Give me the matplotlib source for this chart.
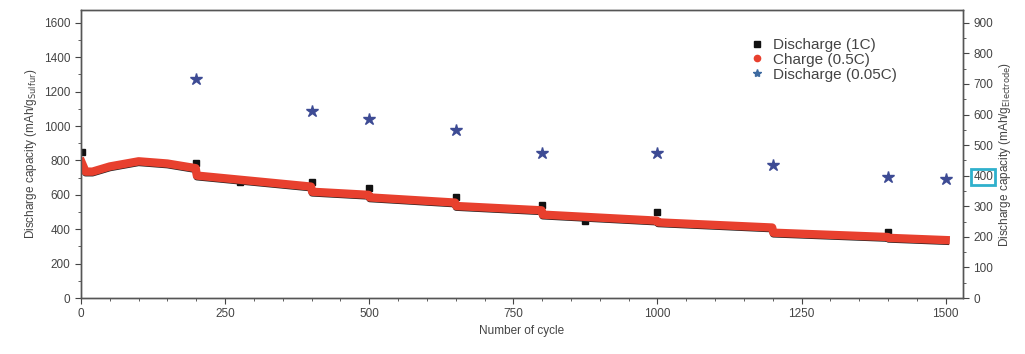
import matplotlib
matplotlib.use('Agg')
import matplotlib.pyplot as plt
from matplotlib.ticker import MultipleLocator

plt.rcParams['font.family'] = ['Liberation Sans', 'DejaVu Sans']
plt.rcParams['font.size'] = 8.5
plt.rcParams['text.color'] = '#444444'
plt.rcParams['axes.labelcolor'] = '#444444'
plt.rcParams['xtick.color'] = '#444444'
plt.rcParams['ytick.color'] = '#444444'

# ==================== data ====================
# charge (0.5C) curve, key points (step drops at 0.05C test cycles)
charge_cycle = [1, 8, 20, 50, 100, 150, 199, 201, 300, 399, 401, 499, 501,
                649, 651, 799, 801, 999, 1001, 1199, 1201, 1399, 1401, 1500]
charge_cap = [790, 735, 735, 765, 795, 782, 755, 712, 680, 648, 618, 600, 585,
              555, 535, 510, 485, 450, 440, 410, 380, 355, 350, 337]

# discharge (1C) curve, just under the charge curve
dis_cycle = [1, 8, 20, 50, 100, 150, 199, 201, 300, 399, 401, 499, 501,
             649, 651, 799, 801, 999, 1001, 1199, 1201, 1399, 1401, 1500]
dis_cap = [780, 727, 727, 757, 787, 774, 747, 704, 672, 640, 610, 592, 577,
           547, 527, 502, 477, 442, 432, 402, 372, 347, 342, 329]

# discharge (1C) points sticking out of the curve
dis_pt_cycle = [1, 200, 275, 400, 500, 650, 800, 875, 1000, 1400]
dis_pt_cap = [850, 785, 674, 674, 640, 585, 540, 450, 500, 386]

# discharge (0.05C), right axis
slow_cycle = [200, 400, 500, 650, 800, 1000, 1200, 1400, 1500]
slow_cap = [717, 613, 587, 548, 473, 473, 434, 395, 388]

# ==================== plot ====================
fig = plt.figure(figsize=(10.25, 3.54), dpi=100)
ax = fig.add_axes([0.079, 0.158, 0.8605, 0.814])
ax2 = ax.twinx()

ax.plot(dis_cycle, dis_cap, color='#222222', lw=5, zorder=2)
ax.plot(charge_cycle, charge_cap, color='#e8402e', lw=6, zorder=3)
ax.plot(dis_pt_cycle, dis_pt_cap, ls='none', marker='s', ms=4, color='#111111', zorder=1)
ax2.plot(slow_cycle, slow_cap, ls='none', marker='*', ms=9, color='#3d4b94')

# legend handles
ax.plot([], [], ls='none', marker='s', ms=4, color='#111111', label='Discharge (1C)')
ax.plot([], [], ls='none', marker='o', ms=4.5, color='#e8402e', label='Charge (0.5C)')
ax.plot([], [], ls='none', marker='*', ms=6, color='#3d6aa0', label='Discharge (0.05C)')
h, l = ax.get_legend_handles_labels()
ax.legend(h[-3:], l[-3:], loc='upper left', bbox_to_anchor=(0.74, 0.95), frameon=False,
          fontsize=11, handletextpad=0.5, labelspacing=0.05, handlelength=1.2)

ax.set_xlim(0, 1530)
ax.set_ylim(0, 1675)
ax2.set_ylim(0, 1675 * 900 / 1600)

ax.set_xticks([0, 250, 500, 750, 1000, 1250, 1500])
ax.xaxis.set_minor_locator(MultipleLocator(50))
ax.set_yticks(range(0, 1601, 200))
ax.yaxis.set_minor_locator(MultipleLocator(100))
ax2.set_yticks(range(0, 901, 100))
ax2.yaxis.set_minor_locator(MultipleLocator(50))

for a in (ax, ax2):
    for s in a.spines.values():
        s.set_color('#555555')
        s.set_linewidth(1.0)
    a.tick_params(which='major', length=4, width=0.8, direction='out')
    a.tick_params(which='minor', length=2, width=0.6, direction='out')

ax.set_xlabel('Number of cycle', labelpad=3)
ax.set_ylabel(r'Discharge capacity (mAh/g$_{\mathrm{Sulfur}}$)', labelpad=4)
ax2.set_ylabel(r'Discharge capacity (mAh/g$_{\mathrm{Electrode}}$)', labelpad=3)

# teal box around the "400" right tick label
for t in ax2.get_yticklabels():
    if t.get_text() == '400':
        t.set_bbox(dict(facecolor='none', edgecolor='#2fb0cc', lw=2, pad=1.5))

fig.savefig('out.png', dpi=100)
